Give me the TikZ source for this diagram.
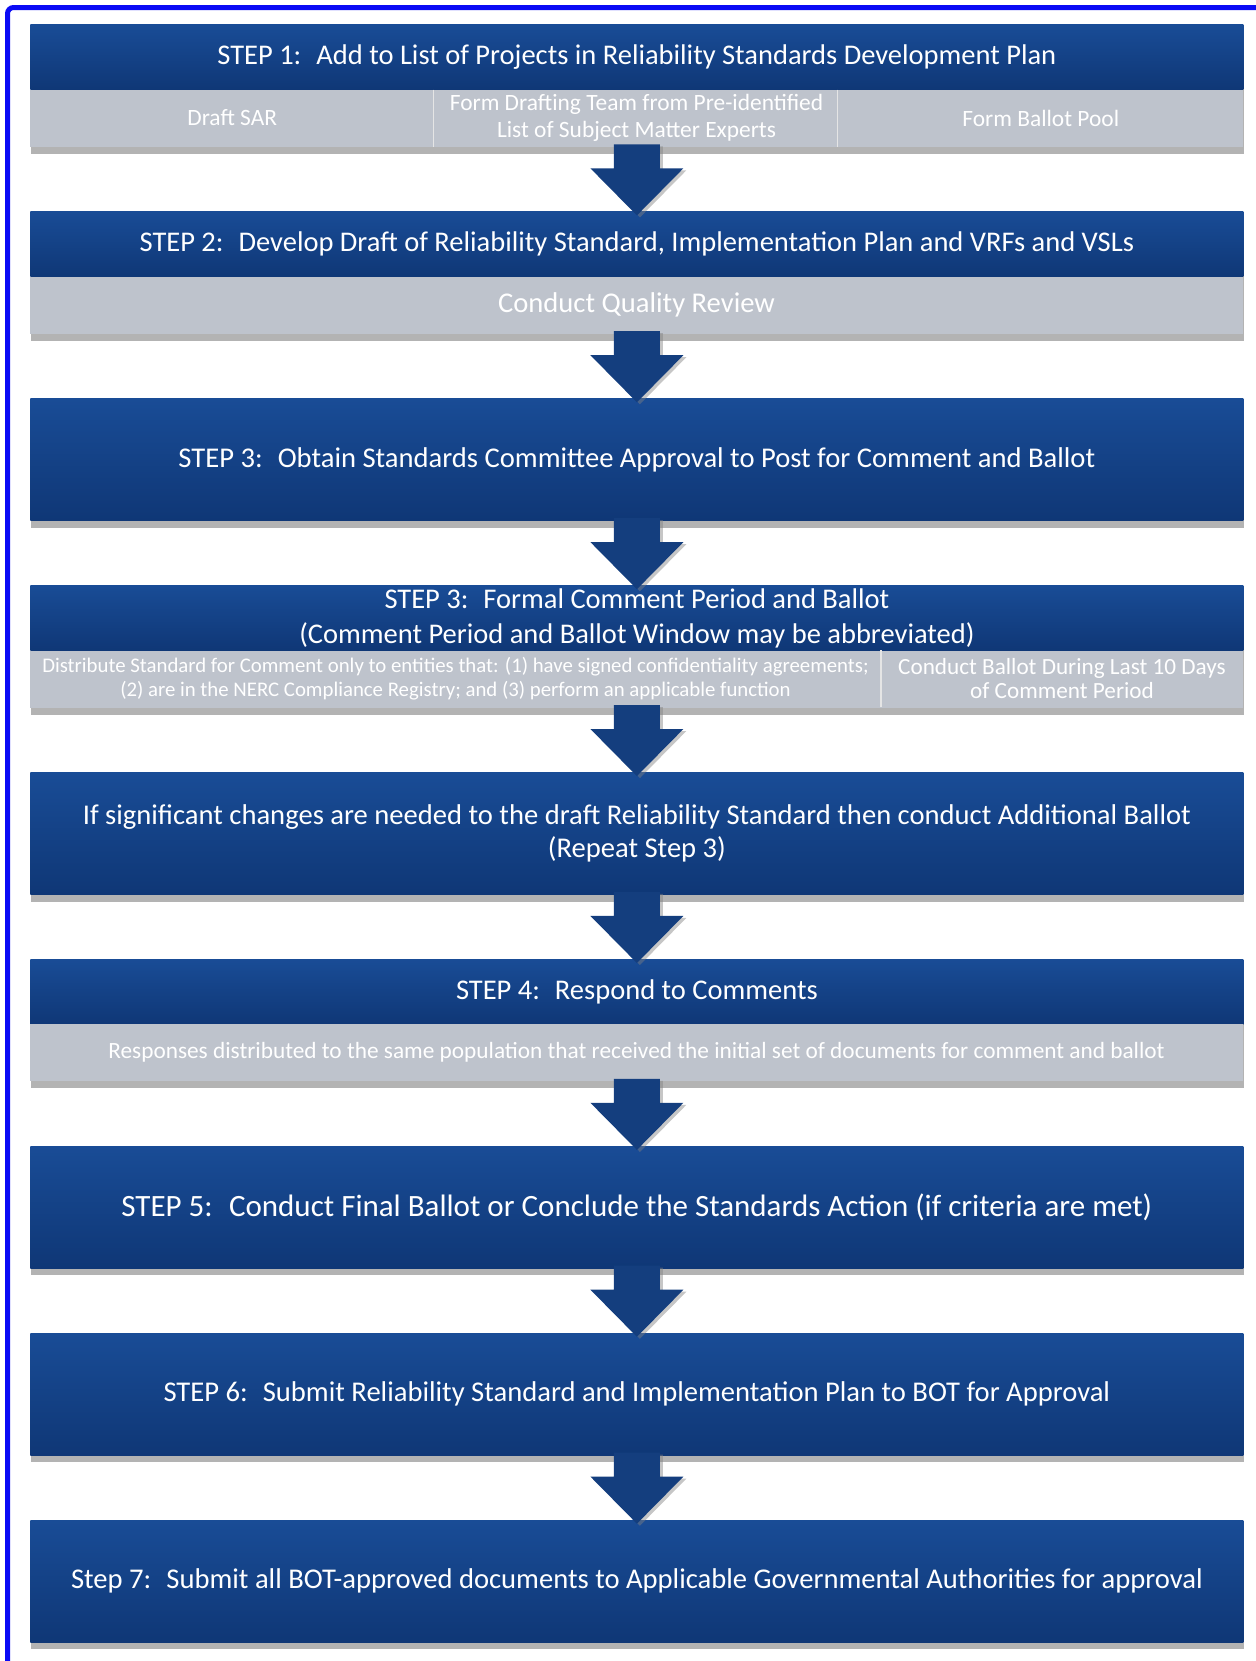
\documentclass[tikz,border=0pt]{standalone}
\usepackage{fontspec}
\setmainfont{Carlito}
\usetikzlibrary{calc}
\usetikzlibrary{shadows}

\definecolor{stepTop}{RGB}{25,76,150}
\definecolor{stepBot}{RGB}{15,55,118}
\definecolor{subGray}{RGB}{190,195,204}
\definecolor{arrowBlue}{RGB}{20,62,126}
\definecolor{frameBlue}{RGB}{10,10,245}

\begin{document}
\begin{tikzpicture}[x=0.5pt, y=-0.5pt,
        S/.style={top color=stepTop, bottom color=stepBot, text=white, anchor=north west,
            minimum width=606.5pt, inner sep=0pt, align=center,
            drop shadow={shadow xshift=0.3pt, shadow yshift=-3.5pt, fill=black!50, opacity=0.6}},
        short/.style={S, minimum height=32.5pt, font=\fontsize{14.25}{17.5}\selectfont},
        tall/.style={S, minimum height=61pt, font=\fontsize{14.3}{16.3}\selectfont},
        G/.style={fill=subGray, anchor=north west, minimum width=606.5pt, minimum height=28.5pt,
            inner sep=0pt,
            drop shadow={shadow xshift=0.3pt, shadow yshift=-3.5pt, fill=black!50, opacity=0.6}},
        T/.style={text=white, align=center, inner sep=0pt},
        div/.style={white!80!gray, line width=0.6pt},
        blk/.style={fill=arrowBlue,
            drop shadow={shadow xshift=1.5pt, shadow yshift=-1pt, fill=black!50, opacity=0.45}}
    ]

    \def\t{24.5}
    \def\p{186.9}
    \useasboundingbox (0,0) rectangle (1255,1661);
    \draw[frameBlue, line width=2.5pt, rounded corners=3pt] (7.5,1670) -- (7.5,7.5) -- (1265,7.5);

    % step 1
    \node[short] (s1) at (30,\t) {STEP 1:~ Add to List of Projects in Reliability Standards Development Plan};
    \node[G] (g1) at (30,\t+65) {};
    \node[T, font=\fontsize{11.7}{13.2}\selectfont] (g1a) at (232.2,\t+93.5) {Draft SAR};
    \node[T, font=\fontsize{11.7}{13.2}\selectfont] (g1b) at (636.5,\t+93.5) {Form Drafting Team from Pre-identified\\List of Subject Matter Experts};
    \node[T, font=\fontsize{11.7}{13.2}\selectfont] (g1c) at (1040.8,\t+93.5) {Form Ballot Pool};
    \draw[div] (433.3,\t+65) -- (433.3,\t+122);
    \draw[div] (837.7,\t+65) -- (837.7,\t+122);

    % step 2
    \node[short] (s2) at (30,\t+\p) {STEP 2:~ Develop Draft of Reliability Standard, Implementation Plan and VRFs and VSLs};
    \node[G] (g2) at (30,\t+\p+65) {};
    \node[T, font=\fontsize{14.3}{16}\selectfont] (g2a) at (636.5,\t+\p+93.5) {Conduct Quality Review};

    % step 3
    \node[tall] (s3) at (30,\t+2*\p) {STEP 3:~ Obtain Standards Committee Approval to Post for Comment and Ballot};

    % step 3, formal comment period
    \node[short] (s4) at (30,\t+3*\p) {STEP 3:~ Formal Comment Period and Ballot\\(Comment Period and Ballot Window may be abbreviated)};
    \node[G] (g4) at (30,\t+3*\p+65) {};
    \node[T, font=\fontsize{10.4}{11.6}\selectfont] (g4a) at (455.5,\t+3*\p+93.5) {Distribute Standard for Comment only to entities that: (1) have signed confidentiality agreements;\\(2) are in the NERC Compliance Registry; and (3) perform  an applicable function};
    \node[T, font=\fontsize{11.6}{12.2}\selectfont] (g4b) at (1062,\t+3*\p+93.5) {Conduct Ballot During Last 10 Days\\of Comment Period};
    \draw[div] (881,\t+3*\p+65) -- (881,\t+3*\p+122);

    % additional ballot
    \node[tall] (s5) at (30,\t+4*\p) {If significant changes are needed to the draft Reliability Standard then conduct Additional Ballot\\(Repeat Step 3)};

    % step 4
    \node[short] (s6) at (30,\t+5*\p) {STEP 4:~ Respond to Comments};
    \node[G] (g6) at (30,\t+5*\p+65) {};
    \node[T, font=\fontsize{11.65}{12}\selectfont] (g6a) at (636.5,\t+5*\p+93.5) {Responses distributed to the same population that received the initial set of documents for comment and ballot};

    % steps 5 to 7
    \node[tall, font=\fontsize{15.5}{17}\selectfont] (s7) at (30,\t+6*\p) {STEP 5:~ Conduct Final Ballot or Conclude the Standards Action (if criteria are met)};
    \node[tall] (s8) at (30,\t+7*\p) {STEP 6:~ Submit Reliability Standard and Implementation Plan to BOT for Approval};
    \node[tall] (s9) at (30,\t+8*\p) {Step 7:~ Submit all BOT-approved documents to Applicable Governmental Authorities for approval};

    % block arrows
    \foreach \a/\b in {g1/s2, g2/s3, s3/s4, g4/s5, s5/s6, g6/s7, s7/s8, s8/s9}{
        \fill[blk] ($(\a.south)+(-23,-3)$) -- ($(\a.south)+(-23,21)$) -- ($(\a.south)+(-46.5,21)$)
            -- ($(\b.north)+(0,4)$) -- ($(\a.south)+(46.5,21)$) -- ($(\a.south)+(23,21)$)
            -- ($(\a.south)+(23,-3)$) -- cycle;
    }
\end{tikzpicture}
\end{document}
